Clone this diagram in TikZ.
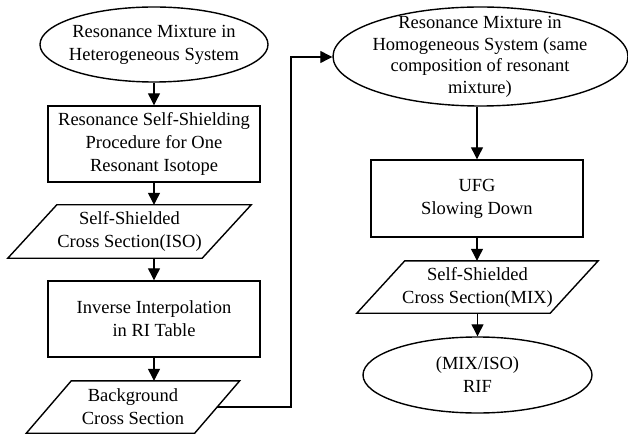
\documentclass[tikz,border=0pt]{standalone}
\usepackage{fontspec}
\setmainfont{Liberation Serif}
\usetikzlibrary{shapes.geometric,arrows.meta,calc}
\begin{document}
\begin{tikzpicture}[x=1pt,y=-1pt,
  txt/.style={align=center,font=\fontsize{18.5}{23}\selectfont,inner sep=0pt},
  shp/.style={draw=black,line width=1.4pt},
  boxnode/.style={shp,rectangle,minimum width=212pt,minimum height=76pt,inner sep=0pt,txt},
  ell/.style={shp,ellipse,inner sep=0pt},
  paranode/.style={rectangle,inner sep=0pt,txt},
  arr/.style={draw=black,line width=1.2pt,-{Triangle[length=12pt,width=12pt]}}
]
\useasboundingbox (0,0) rectangle (628,438);

% left column
\node[ell,minimum width=228pt,minimum height=75pt] (e1) at (154,44.5) {};
\node[txt] (e1t) at (e1.center) {Resonance Mixture in\\Heterogeneous System};

\node[boxnode] (r1) at (154,144) {Resonance Self-Shielding\\Procedure for One\\Resonant Isotope};

\node[paranode,minimum width=194pt,minimum height=53pt] (p1) at (129.5,231.5) {Self-Shielded\\Cross Section(ISO)};
\draw[shp] ($(p1.north west)+(24.5,0)$) -- ($(p1.north east)+(24.5,0)$)
  -- ($(p1.south east)+(-24.5,0)$) -- ($(p1.south west)+(-24.5,0)$) -- cycle;

\node[boxnode] (r2) at (154,319) {Inverse Interpolation\\in RI Table};

\node[paranode,minimum width=168pt,minimum height=52pt] (p2) at (133,407) {Background\\Cross Section};
\draw[shp] ($(p2.north west)+(22.5,0)$) -- ($(p2.north east)+(22.5,0)$)
  -- ($(p2.south east)+(-22.5,0)$) -- ($(p2.south west)+(-22.5,0)$) -- cycle;

% right column
\node[ell,minimum width=295pt,minimum height=99pt] (e2) at (480.5,56.5) {};
\node[txt,font=\fontsize{18.5}{21.5}\selectfont] (e2t) at (480,57) {Resonance Mixture in\\Homogeneous System (same\\composition of resonant\\mixture)};

\node[boxnode,minimum height=77pt] (r3) at (477,198.5) {UFG\\Slowing Down};

\node[paranode,minimum width=193pt,minimum height=52pt] (p3) at (477.5,287) {Self-Shielded\\Cross Section(MIX)};
\draw[shp] ($(p3.north west)+(24,0)$) -- ($(p3.north east)+(24,0)$)
  -- ($(p3.south east)+(-24,0)$) -- ($(p3.south west)+(-24,0)$) -- cycle;

\node[ell,minimum width=229pt,minimum height=76pt] (e3) at (477.5,375) {};
\node[txt] (e3t) at (e3.center) {(MIX/ISO)\\RIF};

% connectors
\draw[arr] (e1.south) -- (r1.north);
\draw[arr] (r1.south) -- (r1.south |- p1.north);
\draw[arr] (r2.north |- p1.south) -- (r2.north);
\draw[arr] (r2.south) -- (r2.south |- p2.north);
\coordinate (c1) at (291,407);
\coordinate (c2) at (291,57);
\draw[arr] ($(p2.east)+(-0.5,0)$) -- (c1) -- (c2) -- (c2 -| e2.west);
\draw[arr] (r3.north |- e2.south) -- (r3.north);
\draw[arr] (r3.south) -- (r3.south |- p3.north);
\draw[arr] (e3.north |- p3.south) -- (e3.north);
\end{tikzpicture}
\end{document}
